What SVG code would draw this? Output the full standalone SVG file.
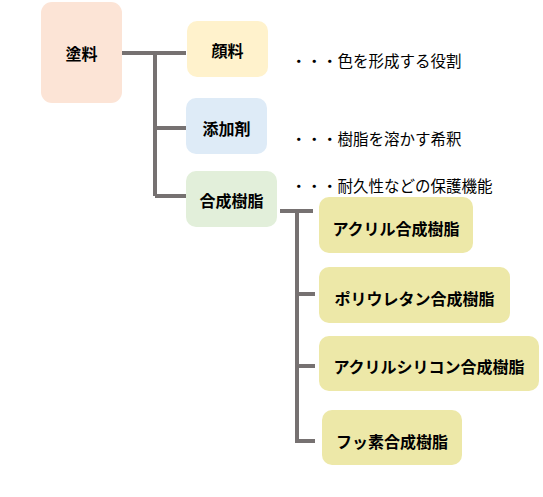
<svg xmlns="http://www.w3.org/2000/svg" width="543" height="497" viewBox="0 0 543 497">
<style>
.lbl{font-family:"Noto Sans CJK JP","Noto Sans",sans-serif;font-weight:bold;font-size:16px;fill:#000;text-anchor:middle;dominant-baseline:central}
.desc{font-family:"Noto Sans CJK JP","Noto Sans",sans-serif;font-size:15.5px;fill:#000;dominant-baseline:central}
.conn{stroke:#767171;stroke-width:4;fill:none}
.sub{fill:#EDE8A8}
</style>
<rect width="543" height="497" fill="#fff"/>
<g id="connectors">
<path class="conn" d="M122,53 H186 M155,53 V196 M155,128 H186 M155,196 H186"/>
<path class="conn" d="M280,211 H313 M297,209 V443 M297,294 H315 M297,366 H315 M297,441 H315"/>
</g>
<g id="toryo"><rect x="41" y="2" width="81" height="101" rx="11" fill="#FCE4D6"/><text class="lbl" x="81.5" y="53">塗料</text></g>
<g id="ganryo"><rect x="187" y="21" width="81" height="56" rx="10" fill="#FFF2CC"/><text class="lbl" x="227.5" y="50">顔料</text></g>
<g id="tenkazai"><rect x="186" y="98" width="81" height="56" rx="10" fill="#DEEBF7"/><text class="lbl" x="226.5" y="128">添加剤</text></g>
<g id="gosei"><rect x="186" y="171" width="91" height="56" rx="10" fill="#E2EFDA"/><text class="lbl" x="231.5" y="200">合成樹脂</text></g>
<g id="acryl"><rect class="sub" x="319" y="197" width="154" height="56" rx="10"/><text class="lbl" x="396" y="228">アクリル合成樹脂</text></g>
<g id="urethane"><rect class="sub" x="319" y="267" width="191" height="56" rx="10"/><text class="lbl" x="414.5" y="298">ポリウレタン合成樹脂</text></g>
<g id="silicon"><rect class="sub" x="319" y="336" width="220" height="55" rx="10"/><text class="lbl" x="429" y="366">アクリルシリコン合成樹脂</text></g>
<g id="fusso"><rect class="sub" x="322" y="410" width="140" height="55" rx="10"/><text class="lbl" x="392" y="441">フッ素合成樹脂</text></g>
<g id="descriptions">
<text class="desc" x="291" y="60">・・・色を形成する役割</text>
<text class="desc" x="291" y="138">・・・樹脂を溶かす希釈</text>
<text class="desc" x="291" y="185">・・・耐久性などの保護機能</text>
</g>
</svg>
